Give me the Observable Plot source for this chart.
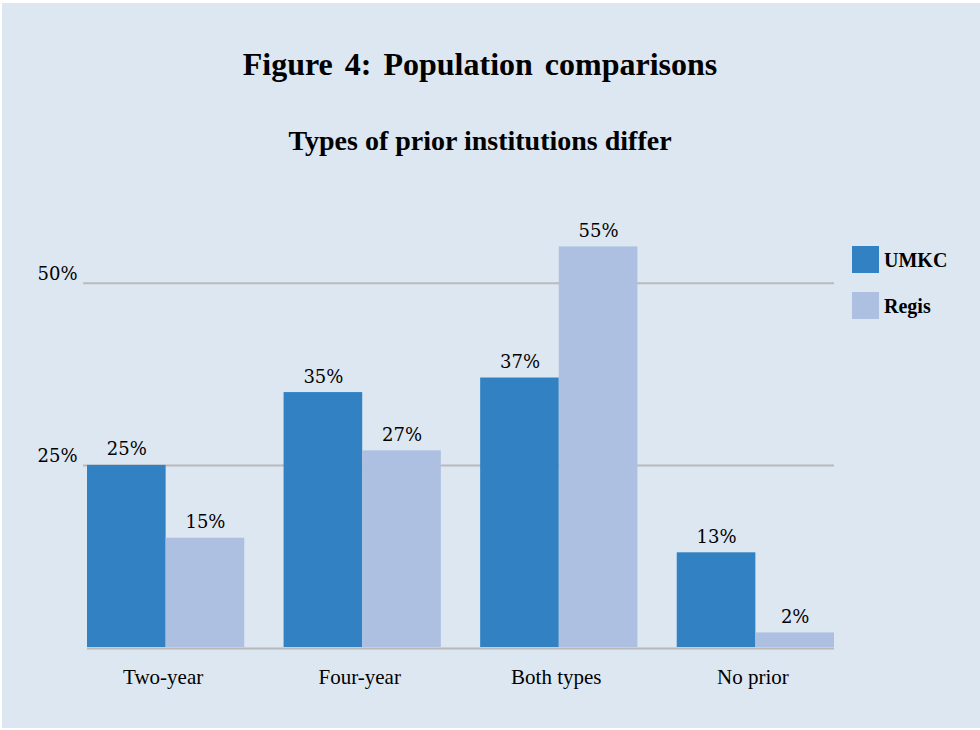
<!DOCTYPE html>
<html>
<head>
<meta charset="utf-8">
<script src="https://cdn.jsdelivr.net/npm/d3@7"></script>
<script src="https://cdn.jsdelivr.net/npm/@observablehq/plot@0.6"></script>
<style>
  body { margin: 0; background: #ffffff; }
  #frame { position: relative; width: 980px; height: 730px; background: #ffffff; overflow: hidden; }
  #panel { position: absolute; top: 3px; left: 2px; right: 0; bottom: 2px; background: #dde7f2; }
  .title, .subtitle { position: absolute; left: 0; width: 960px; text-align: center; font-family: "Liberation Serif", serif; font-weight: bold; color: #000; white-space: nowrap; }
  .title { top: 48px; font-size: 32px; line-height: 32px; word-spacing: 4px; }
  .subtitle { top: 127px; font-size: 28px; line-height: 28px; }
  .layer { position: absolute; top: 180px; left: 0; }
  .legend-item { position: absolute; left: 852px; font-family: "Liberation Serif", serif; font-weight: bold; font-size: 20px; line-height: 20px; color: #000; }
  .legend-item .sw { position: absolute; left: 0; width: 27px; height: 27px; }
  .legend-item .lb { position: absolute; left: 32px; top: 4px; white-space: nowrap; }
</style>
</head>
<body>
<div id="frame">
  <div id="panel"></div>
  <div class="title">Figure 4: Population comparisons</div>
  <div class="subtitle">Types of prior institutions differ</div>
  <div id="grid" class="layer"></div>
  <div id="chart" class="layer"></div>
  <div id="legend"></div>
</div>
<script>
const categories = ["Two-year", "Four-year", "Both types", "No prior"];
const series = ["UMKC", "Regis"];
const umkcValues = [25, 35, 37, 13];
const regisValues = [15, 27, 55, 2];
const yTicks = [25, 50];
const seriesColors = ["#3181c3", "#aec0e2"];

const data = categories.flatMap((c, i) => [
  {cat: c, series: "UMKC", value: umkcValues[i]},
  {cat: c, series: "Regis", value: regisValues[i]}
]);

const serif = "DejaVu Serif, Liberation Serif, serif";
const times = "Liberation Serif, serif";

const common = {
  width: 980,
  height: 530,
  marginLeft: 87,
  marginRight: 146,
  marginTop: 30,
  marginBottom: 63,
  style: {background: "transparent", overflow: "visible"},
  y: {domain: [0, 60], axis: null}
};

// Background layer: gridlines, baseline, y tick labels (same y scale, no facets)
const grid = Plot.plot({
  ...common,
  marks: [
    Plot.ruleY(yTicks, {y: d => d, stroke: "#bababa", strokeWidth: 2, insetLeft: -4}),
    Plot.ruleY([0], {y: d => d, stroke: "#b8b8b8", strokeWidth: 2, dy: 1}),
    Plot.text(yTicks, {y: d => d, text: d => d + "%", frameAnchor: "left", textAnchor: "end", lineAnchor: "bottom", dx: -10, dy: -3, fontFamily: serif, fontSize: 18, fill: "#000"})
  ]
});
document.getElementById("grid").appendChild(grid);

// Foreground layer: grouped bars via fx facets
const chart = Plot.plot({
  ...common,
  fx: {domain: categories, paddingInner: 0.2, paddingOuter: 0, round: false, axis: null, label: null},
  x: {domain: series, padding: 0, round: false, axis: null},
  color: {domain: series, range: seriesColors},
  marks: [
    Plot.barY(data, {fx: "cat", x: "series", y: "value", fill: "series"}),
    Plot.text(data, {fx: "cat", x: "series", y: "value", text: d => d.value + "%", lineAnchor: "bottom", dy: -10, fontFamily: serif, fontSize: 18, fill: "#000"}),
    Plot.text(categories, {fx: d => d, text: d => d, frameAnchor: "bottom", lineAnchor: "bottom", dy: 36, dx: -3, fontFamily: times, fontSize: 21, fill: "#000"})
  ]
});
document.getElementById("chart").appendChild(chart);

const legend = document.getElementById("legend");
const legendTops = [246, 292];
series.forEach((s, i) => {
  const item = document.createElement("div");
  item.className = "legend-item";
  item.style.top = legendTops[i] + "px";
  const sw = document.createElement("div");
  sw.className = "sw";
  sw.style.background = seriesColors[i];
  const lb = document.createElement("div");
  lb.className = "lb";
  lb.textContent = s;
  item.appendChild(sw);
  item.appendChild(lb);
  legend.appendChild(item);
});
</script>
</body>
</html>
